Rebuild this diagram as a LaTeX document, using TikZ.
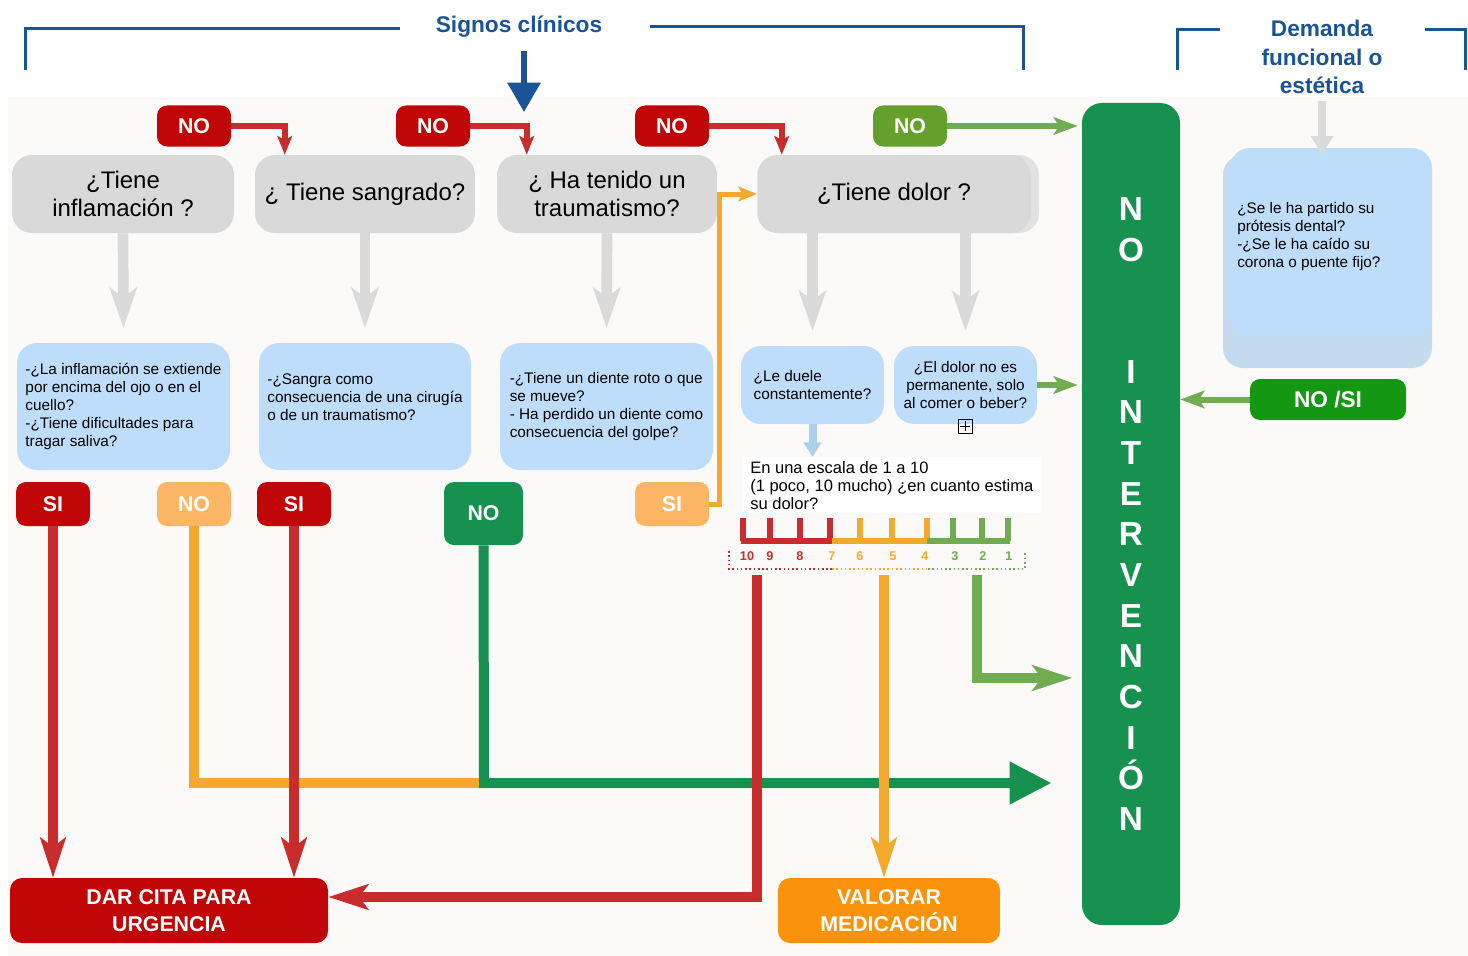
\documentclass[tikz,border=0pt]{standalone}
\usepackage{fontspec}
\setmainfont{Liberation Sans}
\usetikzlibrary{arrows.meta}

\definecolor{headblue}{RGB}{27,84,150}
\definecolor{tagred}{RGB}{192,6,6}
\definecolor{linkred}{RGB}{200,44,44}
\definecolor{tagorange}{RGB}{253,182,102}
\definecolor{linkorange}{RGB}{245,168,46}
\definecolor{boxorange}{RGB}{250,146,12}
\definecolor{darkgreen}{RGB}{22,145,80}
\definecolor{lightgreen}{RGB}{112,172,80}
\definecolor{taggreen}{RGB}{102,160,44}
\definecolor{brightgreen}{RGB}{20,152,20}
\definecolor{qgray}{RGB}{217,217,217}
\definecolor{qgrayback}{RGB}{226,226,226}
\definecolor{agray}{RGB}{218,218,218}
\definecolor{ablue}{RGB}{190,221,250}
\definecolor{abluedeep}{RGB}{196,219,238}
\definecolor{arrowblue}{RGB}{172,207,234}
\definecolor{bgtone}{RGB}{251,250,248}

\tikzset{
  question/.style={fill=qgray, rounded corners=15pt, align=center, font=\fontsize{18}{21}\selectfont, minimum height=58.5pt, inner sep=2pt},
  answer/.style={fill=ablue, rounded corners=15pt, align=left, font=\fontsize{11.5}{13.5}\selectfont, inner sep=2pt},
  chip/.style={rounded corners=7.5pt, text=white, font=\bfseries\fontsize{16}{19}\selectfont, minimum width=55.5pt, minimum height=30.75pt, inner sep=0pt},
  outcome/.style={rounded corners=9pt, text=white, align=center, font=\bfseries\fontsize{16}{20}\selectfont, minimum height=48.75pt},
  heading/.style={text=headblue, align=center, font=\bfseries\fontsize{17}{21.4}\selectfont, inner sep=0pt},
  bracket/.style={draw=headblue, line width=2.25pt},
  flowline/.style={line width=7.5pt},
  thinlink/.style={line width=4.5pt},
  bigtip/.style={-{Stealth[length=30pt,width=19pt,inset=7pt]}},
  smalltip/.style={-{Stealth[length=14pt,width=11pt,inset=3pt]}},
  scalenum/.style={font=\bfseries\fontsize{9.5}{10}\selectfont, inner sep=0pt}
}

\begin{document}
\begin{tikzpicture}[x=0.75pt,y=0.75pt,yscale=-1,xscale=1]
    \useasboundingbox (0,0) rectangle (1468,956);
    \fill[bgtone] (8,97) rectangle (1468,956);

    % encabezados
    \node[heading] (signos) at (519,27) {Signos clínicos};
    \node[heading] (demanda) at (1322,57) {Demanda\\funcional o\\estética};
    \draw[bracket] (25,70) |- (400,29);
    \draw[bracket] (650,27) -| (1023,70);
    \draw[bracket] (1177,70) |- (1220,30);
    \draw[bracket] (1425,30) -| (1465,70);
    \coordinate (entrada) at (524,112);
    \draw[headblue, line width=4.5pt, -{Triangle[length=22pt,width=24pt]}, shorten <=10pt] (signos.south -| entrada) -- (entrada);

    % preguntas
    \node[question, minimum width=166.5pt] (inflam) at (123,194) {¿Tiene\\inflamación ?};
    \node[question, minimum width=165pt] (sangra) at (365,194) {¿ Tiene sangrado?};
    \node[question, minimum width=165pt] (trauma) at (607,194) {¿ Ha tenido un\\traumatismo?};
    \node[question, fill=qgrayback, minimum width=208.5pt] (dolorback) at (900,194) {};
    \node[question, minimum width=205pt] (dolor) at (894,194) {¿Tiene dolor ?};

    \node[chip, fill=tagred] (no1) at (194,126) {NO};
    \node[chip, fill=tagred] (no2) at (433,126) {NO};
    \node[chip, fill=tagred] (no3) at (672,126) {NO};
    \node[chip, fill=taggreen] (no4) at (910,126) {NO};

    \node[answer, minimum width=159.75pt, minimum height=95.25pt] (inflamq) at (123.5,406.5) {-¿La inflamación se extiende\\por encima del ojo o en el\\cuello?\\-¿Tiene dificultades para\\tragar saliva?};
    \node[answer, minimum width=159pt, minimum height=95.25pt] (sangraq) at (365,406.5) {-¿Sangra como\\consecuencia de una cirugía\\o de un traumatismo?\\\mbox{}};
    \node[answer, minimum width=159.75pt, minimum height=95.25pt] (traumaq) at (606.5,406.5) {-¿Tiene un diente roto o que\\se mueve?\\- Ha perdido un diente como\\consecuencia del golpe?};
    \node[answer, minimum width=107.25pt, minimum height=58.5pt] (duele) at (812.5,385) {¿Le duele\\constantemente?};
    \node[answer, align=center, minimum width=107.25pt, minimum height=58.5pt] (permanente) at (965.5,385) {¿El dolor no es\\permanente, solo\\al comer o beber?};
    \draw[line width=0.6pt] (958,419) rectangle (972,433) (965,421) -- (965,431) (960,426) -- (970,426);

    \node[answer, fill=abluedeep, minimum width=156.75pt, minimum height=159.75pt] (protesisback) at (1327.5,261.5) {};
    \node[answer, minimum width=151.5pt, minimum height=141.75pt] (protesis) at (1331,242.5) {};
    \node[anchor=west, align=left, inner sep=0pt, font=\fontsize{11.5}{13.5}\selectfont] (protesistxt) at (1237,237) {¿Se le ha partido su\\prótesis dental?\\-¿Se le ha caído su\\corona o puente fijo?};
    \node[chip, fill=brightgreen, minimum width=117pt, font=\bfseries\fontsize{17}{20}\selectfont] (nosi) at (1328,399.5) {NO /SI};

    \node[fill=darkgreen, rounded corners=15pt, minimum width=73.5pt, minimum height=616.5pt, text=white, align=center, font=\bfseries\fontsize{25}{30.5}\selectfont] (noint) at (1131,514) {N\\O\\[61pt]I\\N\\T\\E\\R\\V\\E\\N\\C\\I\\Ó\\N};

    \node[chip, fill=tagred, minimum height=33pt] (si1) at (53,504) {SI};
    \node[chip, fill=tagorange, minimum height=33pt] (no5) at (194,504) {NO};
    \node[chip, fill=tagred, minimum height=33pt] (si2) at (294,504) {SI};
    \node[chip, fill=darkgreen, minimum width=59.25pt, minimum height=47.25pt] (no6) at (483.5,513.5) {NO};
    \node[chip, fill=tagorange, minimum height=33pt] (si3) at (672,504) {SI};

    \node[outcome, fill=tagred, minimum width=238.5pt] (urgencia) at (169,910.5) {DAR CITA PARA\\URGENCIA};
    \node[outcome, fill=boxorange, minimum width=166.5pt] (medicacion) at (889,910.5) {VALORAR\\MEDICACIÓN};

    % escala del dolor
    \node[fill=white, anchor=north west, align=left, font=\fontsize{12.4}{13.5}\selectfont, inner xsep=6pt, inner ysep=3pt] (escala) at (742,457) {En una escala de 1 a 10\\(1 poco, 10 mucho) ¿en cuanto estima\\su dolor?};
    \draw[linkred, line width=4.2pt] (741,541) -- (832,541) \foreach \x in {743,770,800,830} { (\x,541) -- (\x,518) };
    \draw[linkorange, line width=4.2pt] (832,541) -- (928,541) \foreach \x in {860,892,927} { (\x,541) -- (\x,518) };
    \draw[lightgreen, line width=4.2pt] (927,541) -- (1010,541) \foreach \x in {953,982,1008} { (\x,541) -- (\x,518) };
    \foreach \n/\x in {10/747,9/770,8/800}
      \node[scalenum, text=linkred] (num\n) at (\x,556) {\n};
    \foreach \n/\x in {7/832,6/860,5/893,4/925}
      \node[scalenum, text=linkorange] (num\n) at (\x,556) {\n};
    \foreach \n/\x in {3/955,2/983,1/1009}
      \node[scalenum, text=lightgreen] (num\n) at (\x,556) {\n};
    \draw[linkred, dotted, line width=1.2pt] (729,551) -- (729,569) -- (832,569);
    \draw[linkorange, dotted, line width=1.2pt] (832,569) -- (928,569);
    \draw[lightgreen, dotted, line width=1.2pt] (928,569) -- (1025,569) -- (1025,551);

    % flechas
    \foreach \from/\to in {inflam/inflamq, sangra/sangraq, trauma/traumaq}
      \draw[agray, line width=8pt, -{Stealth[length=30pt,width=20pt,inset=7pt]}, shorten >=11pt] (\from.south) -- (\to.south |- \to.north);
    \foreach \to in {duele, permanente}
      \draw[agray, line width=8pt, -{Stealth[length=30pt,width=20pt,inset=7pt]}, shorten >=11pt] (\to.north |- dolor.south) -- (\to.north);
    \draw[agray, line width=6pt, -{Triangle[length=14pt,width=16pt]}, shorten <=5pt] (demanda.south) -- (demanda.south |- protesisback.north);
    \draw[arrowblue, line width=6pt, -{Triangle[length=11pt,width=13pt]}] (duele.south) -- (duele.south |- escala.north);

    \draw[linkred, thinlink, smalltip] (no1.east) -| ([xshift=22.5pt]sangra.north west);
    \draw[linkred, thinlink, smalltip] (no2.east) -| ([xshift=22.5pt]trauma.north west);
    \draw[linkred, thinlink, smalltip] (no3.east) -| ([xshift=18.5pt]dolor.north west);
    \draw[lightgreen, thinlink, -{Stealth[length=18pt,width=13pt,inset=4pt]}, shorten >=3pt] (no4.east) -- (no4.east -| noint.west);
    \draw[lightgreen, thinlink, -{Stealth[length=18pt,width=13pt,inset=4pt]}, shorten >=3pt] (permanente.east) -- (permanente.east -| noint.west);
    \draw[lightgreen, thinlink, -{Stealth[length=18pt,width=13pt,inset=4pt]}] (nosi.west) -- (nosi.west -| noint.east);
    \draw[linkorange, line width=3.75pt, smalltip] (si3.east) -| ([xshift=-28pt]dolor.west) -- (dolor.west);

    \coordinate (juntaNO) at (484,783);
    \draw[linkorange, flowline] (no5.south) |- (juntaNO);
    \draw[darkgreen, flowline, -{Triangle[length=31.5pt,width=30pt]}, shorten >=22.5pt] (no6.south) -- (juntaNO) -- (juntaNO -| noint.west);
    \draw[linkred, flowline, bigtip] (si1.south) -- (si1.south |- urgencia.north);
    \draw[linkred, flowline, bigtip] (si2.south) -- (si2.south |- urgencia.north);

    \coordinate (tapRojo) at (757,575);
    \coordinate (codoRojo) at (757,897);
    \coordinate (tapNaranja) at (884,575);
    \coordinate (tapVerde) at (977,575);
    \coordinate (codoVerde) at (977,678);
    \draw[linkred, flowline, bigtip] (tapRojo) -- (codoRojo) -- (codoRojo -| urgencia.east);
    \draw[linkorange, flowline, bigtip] (tapNaranja) -- (tapNaranja |- medicacion.north);
    \draw[lightgreen, flowline, bigtip, shorten >=7pt] (tapVerde) -- (codoVerde) -- (codoVerde -| noint.west);
\end{tikzpicture}
\end{document}
